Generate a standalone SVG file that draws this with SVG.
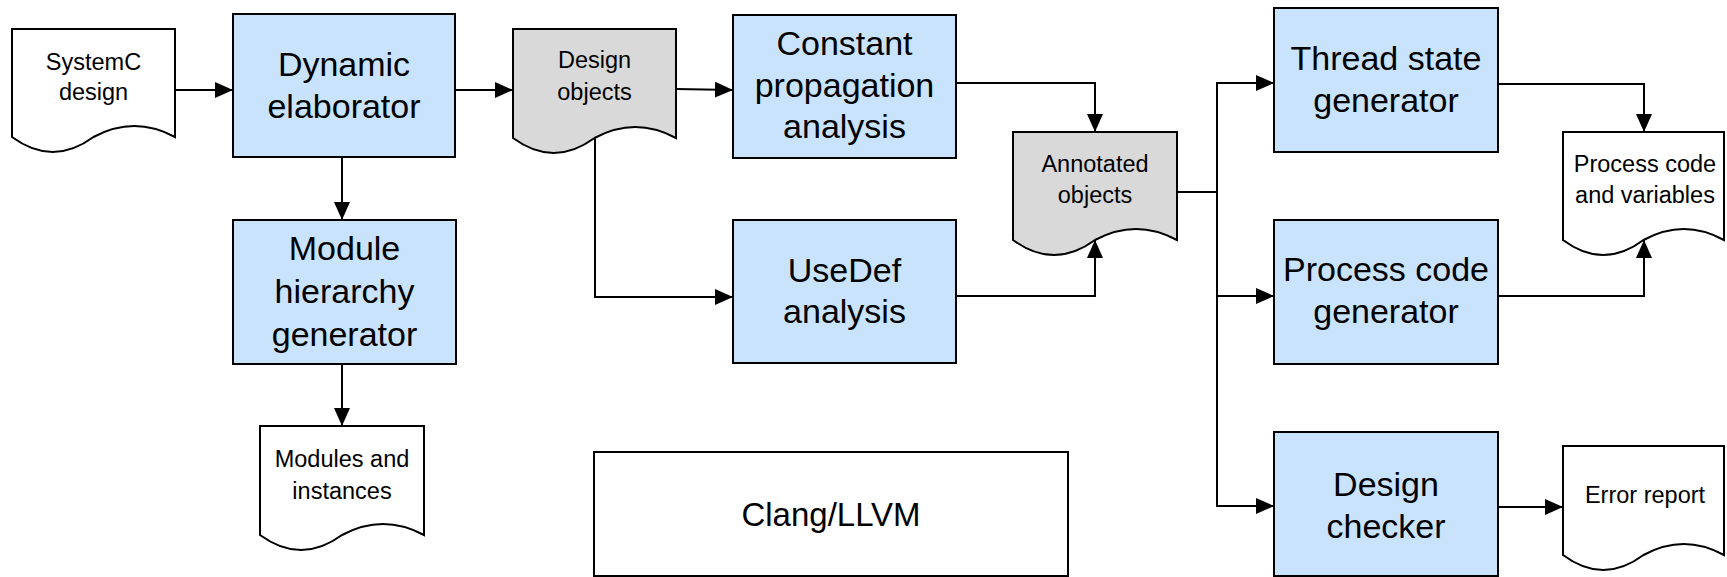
<svg xmlns="http://www.w3.org/2000/svg" width="1727" height="577" viewBox="0 0 1727 577">
<defs>
<style>
.box{fill:#CAE3FD;stroke:#000;stroke-width:2}
.plain{fill:#fff;stroke:#000;stroke-width:2}
.doc{fill:#fff;stroke:#000;stroke-width:2}
.gdoc{fill:#D9D9D9;stroke:#000;stroke-width:2}
.t{font-family:"Liberation Sans",Arial,sans-serif;font-size:34px;text-anchor:middle;fill:#000}
.s{font-family:"Liberation Sans",Arial,sans-serif;font-size:23.5px;text-anchor:middle;fill:#000}
.c{fill:none;stroke:#000;stroke-width:2}
</style>
<marker id="ah" markerUnits="userSpaceOnUse" markerWidth="20" markerHeight="16" refX="18" refY="8" orient="auto">
<path d="M0,0 L18,8 L0,16 z" fill="#000"/>
</marker>
</defs>
<rect width="1727" height="577" fill="#fff"/>

<g id="systemc-design">
<path class="doc" d="M12,29 H175 V137 C147.8,122.3 120.7,122.3 93.5,137 C66.3,157 39.2,157 12,137 Z"/>
<text class="s" x="93.5" y="70">SystemC</text>
<text class="s" x="93.5" y="100">design</text>
</g>

<g id="dynamic-elaborator">
<rect class="box" x="233" y="14" width="222" height="143"/>
<text class="t" x="344" y="76">Dynamic</text>
<text class="t" x="344" y="118">elaborator</text>
</g>

<g id="module-hierarchy-generator">
<rect class="box" x="233" y="220" width="223" height="144"/>
<text class="t" x="344.5" y="260">Module</text>
<text class="t" x="344.5" y="303">hierarchy</text>
<text class="t" x="344.5" y="346">generator</text>
</g>

<g id="modules-and-instances">
<path class="doc" d="M260,426 H424 V535 C396.7,520.3 369.3,520.3 342,535 C314.7,555 287.3,555 260,535 Z"/>
<text class="s" x="342" y="467">Modules and</text>
<text class="s" x="342" y="499">instances</text>
</g>

<g id="design-objects">
<path class="gdoc" d="M513,29 H676 V138 C648.8,123.3 621.7,123.3 594.5,138 C567.3,158 540.2,158 513,138 Z"/>
<text class="s" x="594.5" y="68">Design</text>
<text class="s" x="594.5" y="100">objects</text>
</g>

<g id="constant-propagation-analysis">
<rect class="box" x="733" y="15" width="223" height="143"/>
<text class="t" x="844.5" y="55">Constant</text>
<text class="t" x="844.5" y="97">propagation</text>
<text class="t" x="844.5" y="138">analysis</text>
</g>

<g id="usedef-analysis">
<rect class="box" x="733" y="220" width="223" height="143"/>
<text class="t" x="844.5" y="282">UseDef</text>
<text class="t" x="844.5" y="323">analysis</text>
</g>

<g id="clang-llvm">
<rect class="plain" x="594" y="452" width="474" height="124"/>
<text class="t" x="831" y="526" style="font-size:33px">Clang/LLVM</text>
</g>

<g id="annotated-objects">
<path class="gdoc" d="M1013,132 H1177 V240 C1149.7,225.3 1122.3,225.3 1095,240 C1067.7,260 1040.3,260 1013,240 Z"/>
<text class="s" x="1095" y="172">Annotated</text>
<text class="s" x="1095" y="203">objects</text>
</g>

<g id="thread-state-generator">
<rect class="box" x="1274" y="8" width="224" height="144"/>
<text class="t" x="1386" y="70">Thread state</text>
<text class="t" x="1386" y="112">generator</text>
</g>

<g id="process-code-generator">
<rect class="box" x="1274" y="220" width="224" height="144"/>
<text class="t" x="1386" y="281">Process code</text>
<text class="t" x="1386" y="323">generator</text>
</g>

<g id="design-checker">
<rect class="box" x="1274" y="432" width="224" height="144"/>
<text class="t" x="1386" y="496">Design</text>
<text class="t" x="1386" y="538">checker</text>
</g>

<g id="process-code-and-variables">
<path class="doc" d="M1563,132 H1724 V240 C1697.2,225.3 1670.3,225.3 1643.5,240 C1616.7,260 1589.8,260 1563,240 Z"/>
<text class="s" x="1645" y="172">Process code</text>
<text class="s" x="1645" y="203">and variables</text>
</g>

<g id="error-report">
<path class="doc" d="M1563,446 H1724 V555 C1697.2,540.3 1670.3,540.3 1643.5,555 C1616.7,575 1589.8,575 1563,555 Z"/>
<text class="s" x="1645" y="503">Error report</text>
</g>

<g id="connectors">
<path class="c" d="M175,90 H233" marker-end="url(#ah)"/>
<path class="c" d="M455,90 H513" marker-end="url(#ah)"/>
<path class="c" d="M676,89 L733,90" marker-end="url(#ah)"/>
<path class="c" d="M342,157 V220" marker-end="url(#ah)"/>
<path class="c" d="M342,364 V426" marker-end="url(#ah)"/>
<path class="c" d="M595,138 V297 H733" marker-end="url(#ah)"/>
<path class="c" d="M956,83 H1095 V132" marker-end="url(#ah)"/>
<path class="c" d="M956,296 H1095 V240" marker-end="url(#ah)"/>
<path class="c" d="M1177,192 H1217"/>
<path class="c" d="M1217,192 V83 H1274" marker-end="url(#ah)"/>
<path class="c" d="M1217,192 V296 H1274" marker-end="url(#ah)"/>
<path class="c" d="M1217,296 V506 H1274" marker-end="url(#ah)"/>
<path class="c" d="M1498,84 H1644 V132" marker-end="url(#ah)"/>
<path class="c" d="M1498,296 H1644 V240" marker-end="url(#ah)"/>
<path class="c" d="M1498,507 H1563" marker-end="url(#ah)"/>
</g>
</svg>
